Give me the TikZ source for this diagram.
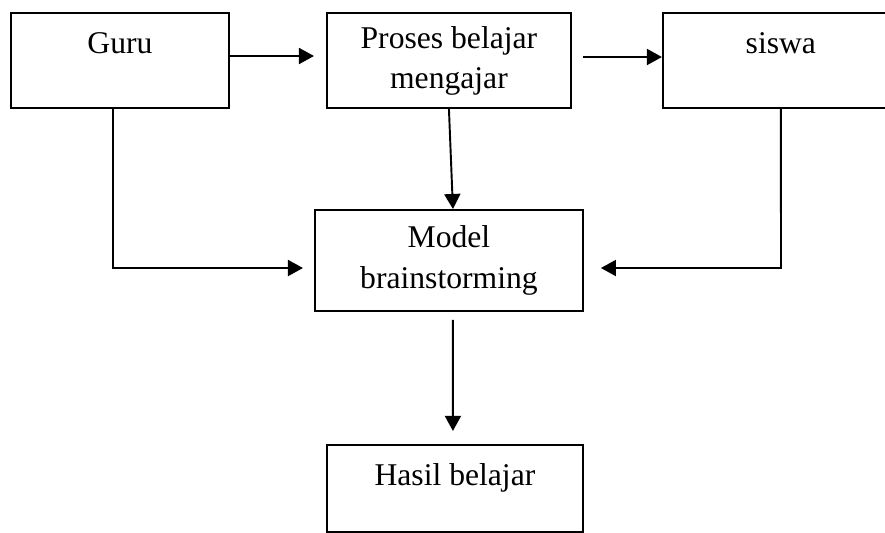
\documentclass[tikz,border=0pt]{standalone}
\usepackage{fontspec}
\setmainfont{Liberation Serif}
\usetikzlibrary{positioning,arrows.meta}

\begin{document}
\begin{tikzpicture}[
        box/.style={draw, line width=1.1pt, inner sep=0pt, font=\fontsize{18}{22.8}\selectfont},
        arr/.style={line width=1.1pt, -{Triangle[length=0.3cm, width=0.32cm]}},
        node distance=2cm and 1.92cm
    ]
    \useasboundingbox (0,0) rectangle (17.7,-10.64);

    \node[box, minimum width=4.36cm, text height=0.8cm, text depth=1.1cm]  (guru)   at (2.4,-1.21)  {Guru};
    \node[box, minimum width=4.88cm, minimum height=1.9cm, align=center]   (proses) [right=of guru] {Proses belajar\\mengajar};
    \node[box, minimum width=4.72cm, text height=0.8cm, text depth=1.1cm]  (siswa)  [right=1.8cm of proses] {siswa};
    \node[box, minimum width=5.36cm, minimum height=2.02cm, align=center]  (model)  [below=of proses] {Model\\brainstorming};
    \node[box, minimum width=5.12cm, text height=0.82cm, text depth=0.92cm] (hasil) [below=2.64cm of model, xshift=0.12cm] {Hasil belajar};

    \coordinate (bend) at (15.62,-5.36);

    \draw[arr, shorten >=0.24cm] ([yshift=0.09cm]guru.east) -- ([yshift=0.09cm]proses.west);
    \draw[arr, shorten <=0.22cm] ([yshift=0.07cm]proses.east) -- ([yshift=0.07cm]siswa.west);
    \draw[arr] (proses.south) -- ([xshift=0.08cm]model.north);
    \draw[arr, shorten >=0.22cm] ([xshift=-0.14cm]guru.south) |- (model.west |- bend);
    \draw[arr, shorten >=0.34cm] (siswa.south) -- (bend) -- (model.east |- bend);
    \draw[arr, shorten <=0.16cm, shorten >=0.26cm] ([xshift=0.08cm]model.south) -- ([xshift=-0.04cm]hasil.north);
\end{tikzpicture}
\end{document}
